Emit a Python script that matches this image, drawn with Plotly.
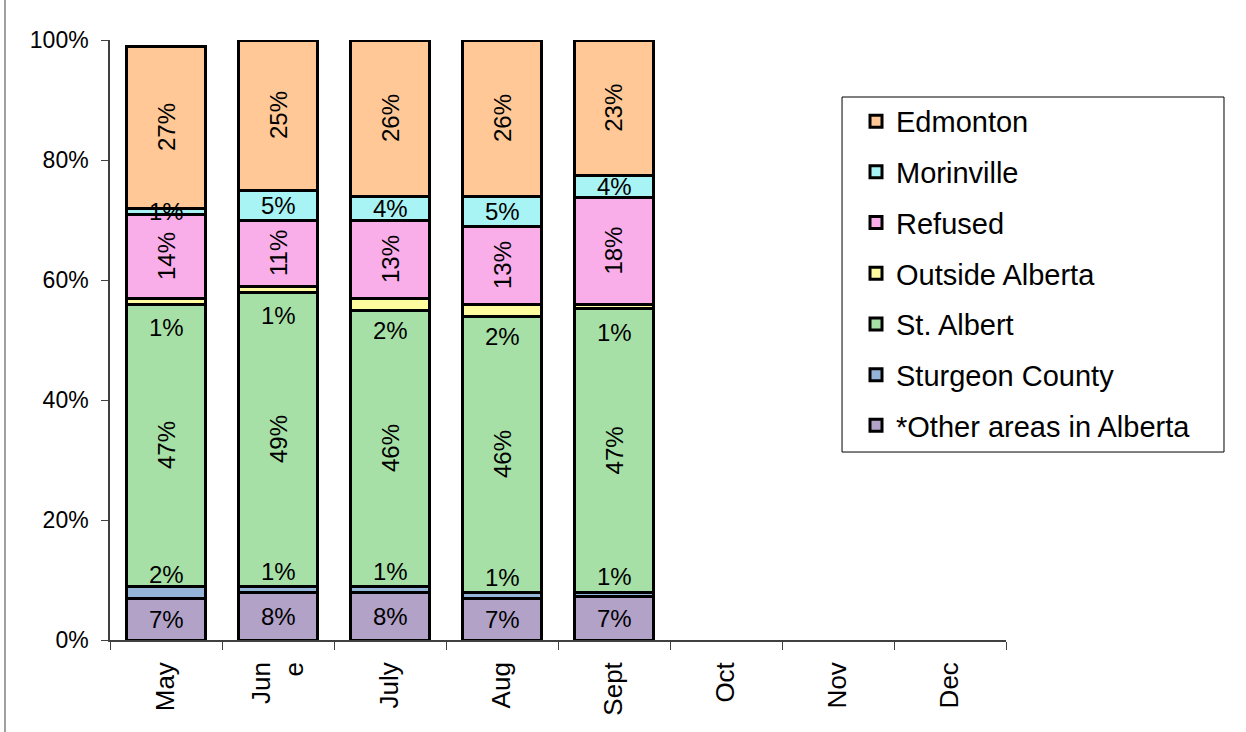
import plotly.graph_objects as go

months = ["May", "June", "July", "Aug", "Sept", "Oct", "Nov", "Dec"]
tick_text = ["May", "Jun<br>e", "July", "Aug", "Sept", "Oct", "Nov", "Dec"]
data_months = ["May", "June", "July", "Aug", "Sept"]

other_areas = [7, 8, 8, 7, 7.3]
sturgeon = [2, 1, 1, 1, 0.6]
st_albert = [47, 49, 46, 46, 47.4]
outside = [1, 1, 2, 2, 0.7]
refused = [14, 11, 13, 13, 17.8]
morinville = [1, 5, 4, 5, 3.6]
edmonton = [27, 25, 26, 26, 22.6]

series = [
    ("*Other areas in Alberta", other_areas, "#B2A2C8"),
    ("Sturgeon County", sturgeon, "#94B4D8"),
    ("St. Albert", st_albert, "#A6E0A6"),
    ("Outside Alberta", outside, "#FFFCA0"),
    ("Refused", refused, "#F9AEEA"),
    ("Morinville", morinville, "#A8F4F4"),
    ("Edmonton", edmonton, "#FFC896"),
]

FONT = "Liberation Sans, Arial, sans-serif"

fig = go.Figure()
n = len(series)
for i, (name, vals, color) in enumerate(series):
    fig.add_trace(go.Bar(
        x=data_months, y=vals, name=name,
        marker=dict(color=color, line=dict(color="black", width=3)),
        legendgroup=name, legendrank=n - i,
        hoverinfo="skip",
    ))

label_style = {
    "*Other areas in Alberta": (0, 0),
    "Sturgeon County": (0, 18),
    "St. Albert": (-90, 0),
    "Outside Alberta": (0, -26),
    "Refused": (-90, 0),
    "Morinville": (0, 0),
    "Edmonton": (-90, 0),
}
annotations = []
for j, m in enumerate(data_months):
    base = 0.0
    for name, vals, color in series:
        v = vals[j]
        angle, ysh = label_style[name]
        annotations.append(dict(
            x=m, y=base + v / 2, xref="x", yref="y",
            text=f"{round(v)}%", showarrow=False, textangle=angle,
            yshift=ysh, font=dict(family=FONT, size=24, color="black"),
        ))
        base += v

fig.update_layout(
    width=1246, height=732,
    barmode="stack", bargap=0.286,
    plot_bgcolor="white", paper_bgcolor="white",
    margin=dict(l=110, r=240, t=40, b=92),
    font=dict(family=FONT, size=23, color="black"),
    annotations=annotations,
    showlegend=True,
    legend=dict(
        x=0.8326, y=0.907, xanchor="left", yanchor="top",
        traceorder="grouped", tracegroupgap=10,
        borderwidth=0, bgcolor="rgba(0,0,0,0)",
        font=dict(family=FONT, size=29, color="black"),
    ),
    shapes=[
        dict(type="line", xref="paper", yref="paper",
             x0=-0.1172, x1=-0.1172, y0=-0.2, y1=1.2,
             line=dict(color="#808080", width=1.5)),
        dict(type="rect", xref="paper", yref="paper",
             x0=0.8170, x1=1.2433, y0=0.3133, y1=0.905,
             line=dict(color="black", width=1), fillcolor="white",
             layer="below"),
    ],
)
fig.update_xaxes(
    categoryorder="array", categoryarray=months,
    tickmode="array", tickvals=months, ticktext=tick_text,
    range=[-0.5, 7.5], tickangle=-90,
    showline=True, linecolor="#404040", linewidth=1.5,
    ticks="outside", tickson="boundaries", ticklen=8, tickcolor="#404040",
    tickfont=dict(family=FONT, size=26, color="black"),
    showgrid=False, ticklabelstandoff=10,
)
fig.update_yaxes(
    range=[0, 100], dtick=20, ticksuffix="%",
    showline=True, linecolor="#404040", linewidth=1.5,
    ticks="outside", ticklen=7, tickcolor="#404040",
    tickfont=dict(family=FONT, size=23, color="black"),
    showgrid=False, zeroline=False, ticklabelstandoff=8,
)

fig.write_html(
    "out.html",
    config={"displayModeBar": False},
    post_script="document.body.style.margin='0';document.body.style.overflow='hidden';",
)
